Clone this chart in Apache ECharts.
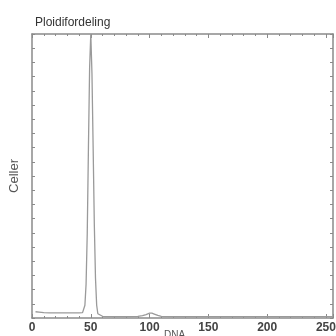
<!DOCTYPE html>
<html><head><meta charset="utf-8">
<script src="https://cdn.jsdelivr.net/npm/echarts@6/dist/echarts.min.js"></script>
<style>html,body{margin:0;padding:0;background:#fff}#c{width:336px;height:336px}</style>
</head><body><div id="c"></div>
<script>
const titleText = 'Ploidifordeling';
const xName = 'DNA';
const yName = 'Celler';
const dnaChannel = [3, 6, 10, 15, 20, 25, 30, 35, 40, 43, 44, 45, 46, 47, 48, 49, 50, 51, 52, 53, 54, 55, 56, 57, 60, 70, 80, 90, 94, 97, 100, 102, 104, 107, 110, 120, 140, 160, 180, 200, 220, 240, 256];
const cellCount  = [22, 21, 19, 18, 18, 18, 18, 18, 18, 19, 24, 45, 120, 300, 600, 880, 1000, 860, 600, 330, 140, 45, 15, 8, 6, 5, 5, 6, 8, 12, 17, 17, 14, 9, 6, 5, 5, 5, 5, 5, 5, 5, 5];

const data = dnaChannel.map((x, i) => [x, cellCount[i]]);
const axisCol = '#8a8a8a';
const chart = echarts.init(document.getElementById('c'), null, {renderer: 'canvas'});
const xBase = {
  type: 'value', min: 0, max: 256, interval: 50,
  axisLine: {show: true, onZero: false, lineStyle: {color: axisCol, width: 1.5}},
  axisTick: {show: true, inside: true, length: 4, lineStyle: {color: axisCol}},
  minorTick: {show: true, splitNumber: 5, length: 2, lineStyle: {color: axisCol}},
  splitLine: {show: false}
};
const yBase = {
  type: 'value', min: 0, max: 1000, interval: 50,
  axisLine: {show: true, onZero: false, lineStyle: {color: axisCol, width: 1.5}},
  axisTick: {show: true, inside: true, length: 3, lineStyle: {color: axisCol}},
  axisLabel: {show: false},
  splitLine: {show: false}
};
chart.setOption({
  animation: false,
  title: [
    {text: titleText, left: 30, top: 12, textStyle: {fontSize: 12, fontWeight: 'normal', color: '#333', fontFamily: 'Liberation Sans'}},
    {text: xName, left: 164, top: 330, padding: 0, textStyle: {fontSize: 10, fontWeight: 'normal', color: '#555', fontFamily: 'Liberation Sans'}}
  ],
  grid: {left: 32, right: 3, top: 34, bottom: 18, containLabel: false, outerBoundsMode: 'none'},
  xAxis: [
    Object.assign({}, xBase, {position: 'bottom',
      axisLabel: {show: true, fontSize: 12, fontWeight: 'bold', color: '#444', margin: 4, fontFamily: 'Liberation Sans'}}),
    Object.assign({}, xBase, {position: 'top', axisLabel: {show: false}})
  ],
  yAxis: [
    Object.assign({}, yBase, {position: 'left', name: yName, nameLocation: 'middle', nameGap: 11,
      nameTextStyle: {fontSize: 13, color: '#555', fontFamily: 'Liberation Sans'}}),
    Object.assign({}, yBase, {position: 'right'})
  ],
  series: [{
    type: 'line', data: data, showSymbol: false, symbol: 'none',
    lineStyle: {color: '#9a9a9a', width: 1.3}
  }]
});
</script></body></html>
